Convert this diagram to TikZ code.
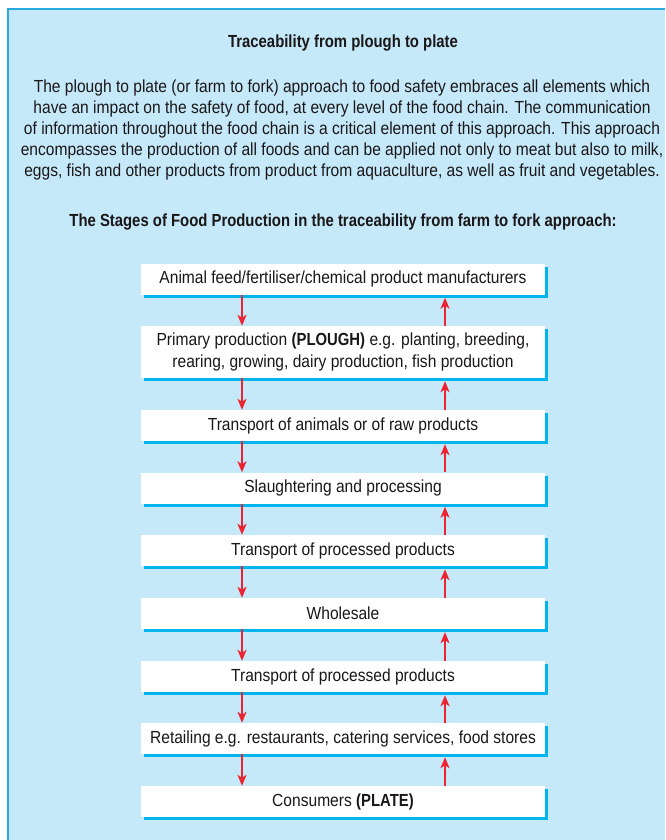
\documentclass[tikz,border=0pt]{standalone}
\usepackage{fontspec}
\setmainfont{Liberation Sans}[FakeStretch=0.89, BoldFeatures={FakeStretch=0.85}]
\usetikzlibrary{arrows.meta,shadows}
\definecolor{bgblue}{HTML}{C6E9FA}
\definecolor{frameblue}{HTML}{29A9E1}
\definecolor{shadowblue}{HTML}{00B4EE}
\definecolor{arrowred}{HTML}{EC2330}
\definecolor{txt}{HTML}{1A1718}
\begin{document}
\begin{tikzpicture}[x=1pt,y=-1pt,
  stagebox/.style={fill=white, minimum width=404pt, minimum height=31pt, inner sep=0pt,
    align=center, text=txt, font=\fontsize{17.5}{22}\selectfont,
    drop shadow={shadow xshift=3pt, shadow yshift=-3pt, fill=shadowblue, opacity=1}},
  flow/.style={arrowred, line width=1.8pt, -{Stealth[length=11pt,width=9pt,inset=3pt]}},
  headtext/.style={text=txt, font=\fontsize{17.5}{21}\selectfont\bfseries},
  bodytext/.style={text=txt, align=center, font=\fontsize{17.5}{21}\selectfont}]
\useasboundingbox (0,0) rectangle (665,840);
\fill[bgblue] (8,9) rectangle (665,840);
\draw[frameblue, line width=1.2pt] (8,840) -- (8,9) -- (665,9);

\node[headtext] (title) at (343,43) {Traceability from plough to plate};
\node[bodytext] (para) at (342,129.5) {The plough to plate (or farm to fork) approach to food safety embraces all elements which\\
have an impact on the safety of food, at every level of the food chain. The communication\\
of information throughout the food chain is a critical element of this approach. This approach\\
encompasses the production of all foods and can be applied not only to meat but also to milk,\\
eggs, fish and other products from product from aquaculture, as well as fruit and vegetables.};
\node[headtext] (sub) at (343,222) {The Stages of Food Production in the traceability from farm to fork approach:};

\node[stagebox] (b1) at (343,279) {Animal feed/fertiliser/chemical product manufacturers};
\node[stagebox, minimum height=52pt] (b2) at (343,352) {Primary production \textbf{(PLOUGH)} e.g. planting, breeding,\\ rearing, growing, dairy production, fish production};
\node[stagebox] (b3) at (343,425.5) {Transport of animals or of raw products};
\node[stagebox] (b4) at (343,488) {Slaughtering and processing};
\node[stagebox] (b5) at (343,550.5) {Transport of processed products};
\node[stagebox] (b6) at (343,613.5) {Wholesale};
\node[stagebox] (b7) at (343,676.5) {Transport of processed products};
\node[stagebox] (b8) at (343,738.5) {Retailing e.g. restaurants, catering services, food stores};
\node[stagebox] (b9) at (343,801.5) {Consumers \textbf{(PLATE)}};

\coordinate (dl) at (242,0);
\coordinate (ul) at (445,0);
\foreach \a/\b in {b1/b2,b2/b3,b3/b4,b4/b5,b5/b6,b6/b7,b7/b8,b8/b9}{
  \draw[flow] (\a.south -| dl) -- (\b.north -| dl);
  \draw[flow] (\b.north -| ul) -- ([yshift=-3pt]\a.south -| ul);
}
\end{tikzpicture}
\end{document}
